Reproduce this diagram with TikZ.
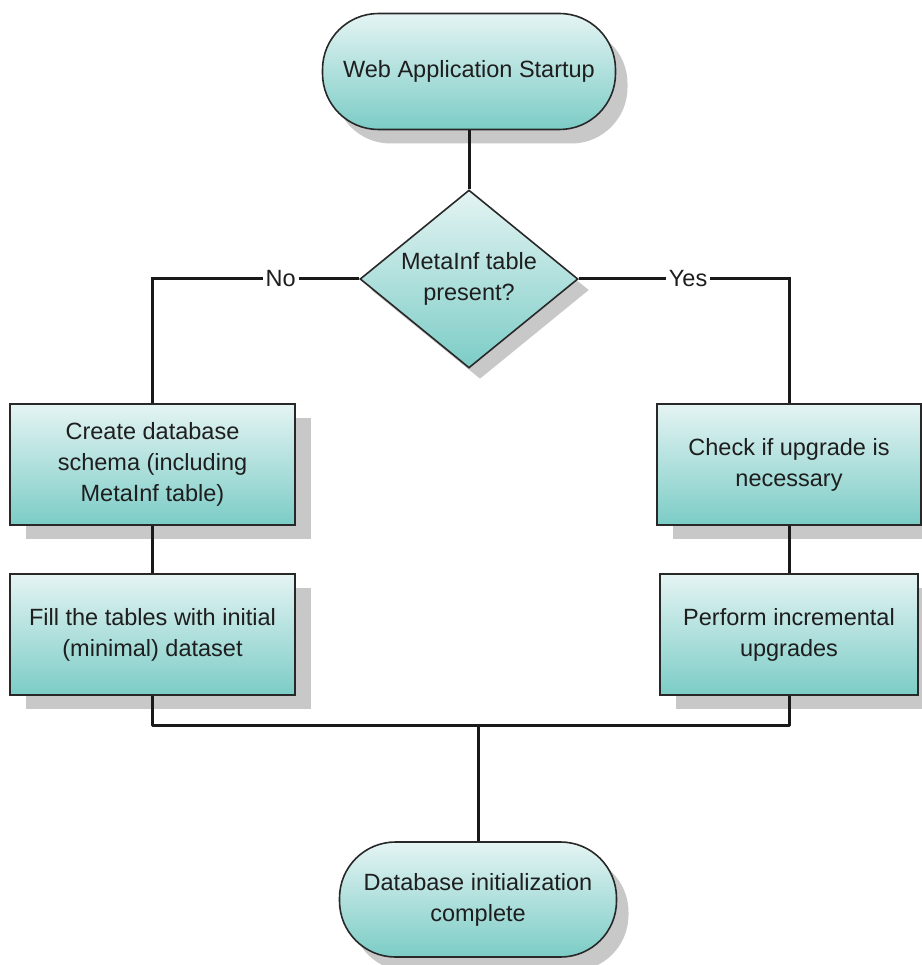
\documentclass[tikz,border=0pt]{standalone}
\usepackage{fontspec}
\setmainfont{Liberation Sans}
\usetikzlibrary{shapes.geometric,shadows}
\definecolor{tealtop}{RGB}{228,244,243}
\definecolor{tealbot}{RGB}{124,204,198}
\definecolor{edge}{RGB}{40,40,40}
\definecolor{txt}{RGB}{30,30,30}
\definecolor{shad}{RGB}{200,200,200}
\tikzset{
  base/.style={draw=edge, line width=1.6pt, top color=tealtop, bottom color=tealbot,
    text=txt, align=center, font=\fontsize{23.5}{31}\selectfont, inner sep=0pt},
  procbox/.style={base, rectangle, minimum height=121pt,
    drop shadow={shadow xshift=16pt, shadow yshift=-14pt, fill=shad, opacity=1}},
  term/.style={base, rectangle, rounded corners=56pt, minimum height=116pt,
    drop shadow={shadow xshift=12pt, shadow yshift=-14pt, fill=shad, opacity=1}},
  decide/.style={base, diamond, aspect=1.225, minimum width=218pt, minimum height=178pt,
    drop shadow={shadow xshift=11pt, shadow yshift=-11pt, fill=shad, opacity=1}},
  conn/.style={draw=black!90, line width=3pt},
  lbl/.style={fill=white, text=txt, inner sep=3pt, font=\fontsize{23.5}{28}\selectfont}
}
\begin{document}
\begin{tikzpicture}[x=1pt,y=-1pt]
\useasboundingbox (0,0) rectangle (921,965);
\node[term, minimum width=293pt] (start) at (469,71.5) {Web Application Startup};
\node[decide] (dia) at (469,279) {MetaInf table\\present?};
\node[procbox, minimum width=285pt] (l1) at (152.5,464.5) {Create database\\schema (including\\MetaInf table)};
\node[procbox, minimum width=285pt] (l2) at (152.5,634.5) {Fill the tables with initial\\(minimal) dataset};
\node[procbox, minimum width=264pt] (r1) at (789,464.5) {Check if upgrade is\\necessary};
\node[procbox, minimum width=258pt] (r2) at (789,634.5) {Perform incremental\\upgrades};
\node[term, minimum width=277pt, minimum height=115pt] (end) at (478,899.5) {Database initialization\\complete};
\coordinate (join) at (478,725);

\draw[conn] (start.south) -- (dia.north);
\draw[conn] (dia.west) -| node[lbl, pos=0.19] (no) {No} (l1.north);
\draw[conn] (dia.east) -| node[lbl, pos=0.26] (yes) {Yes} (r1.north);
\draw[conn] (l1.south) -- (l2.north);
\draw[conn] (r1.south) -- (r2.north);
\draw[conn, line join=round] (l2.south) |- (join);
\draw[conn, line join=round] (r2.south) |- (join);
\draw[conn] (join) -- (end.north);
\end{tikzpicture}
\end{document}
